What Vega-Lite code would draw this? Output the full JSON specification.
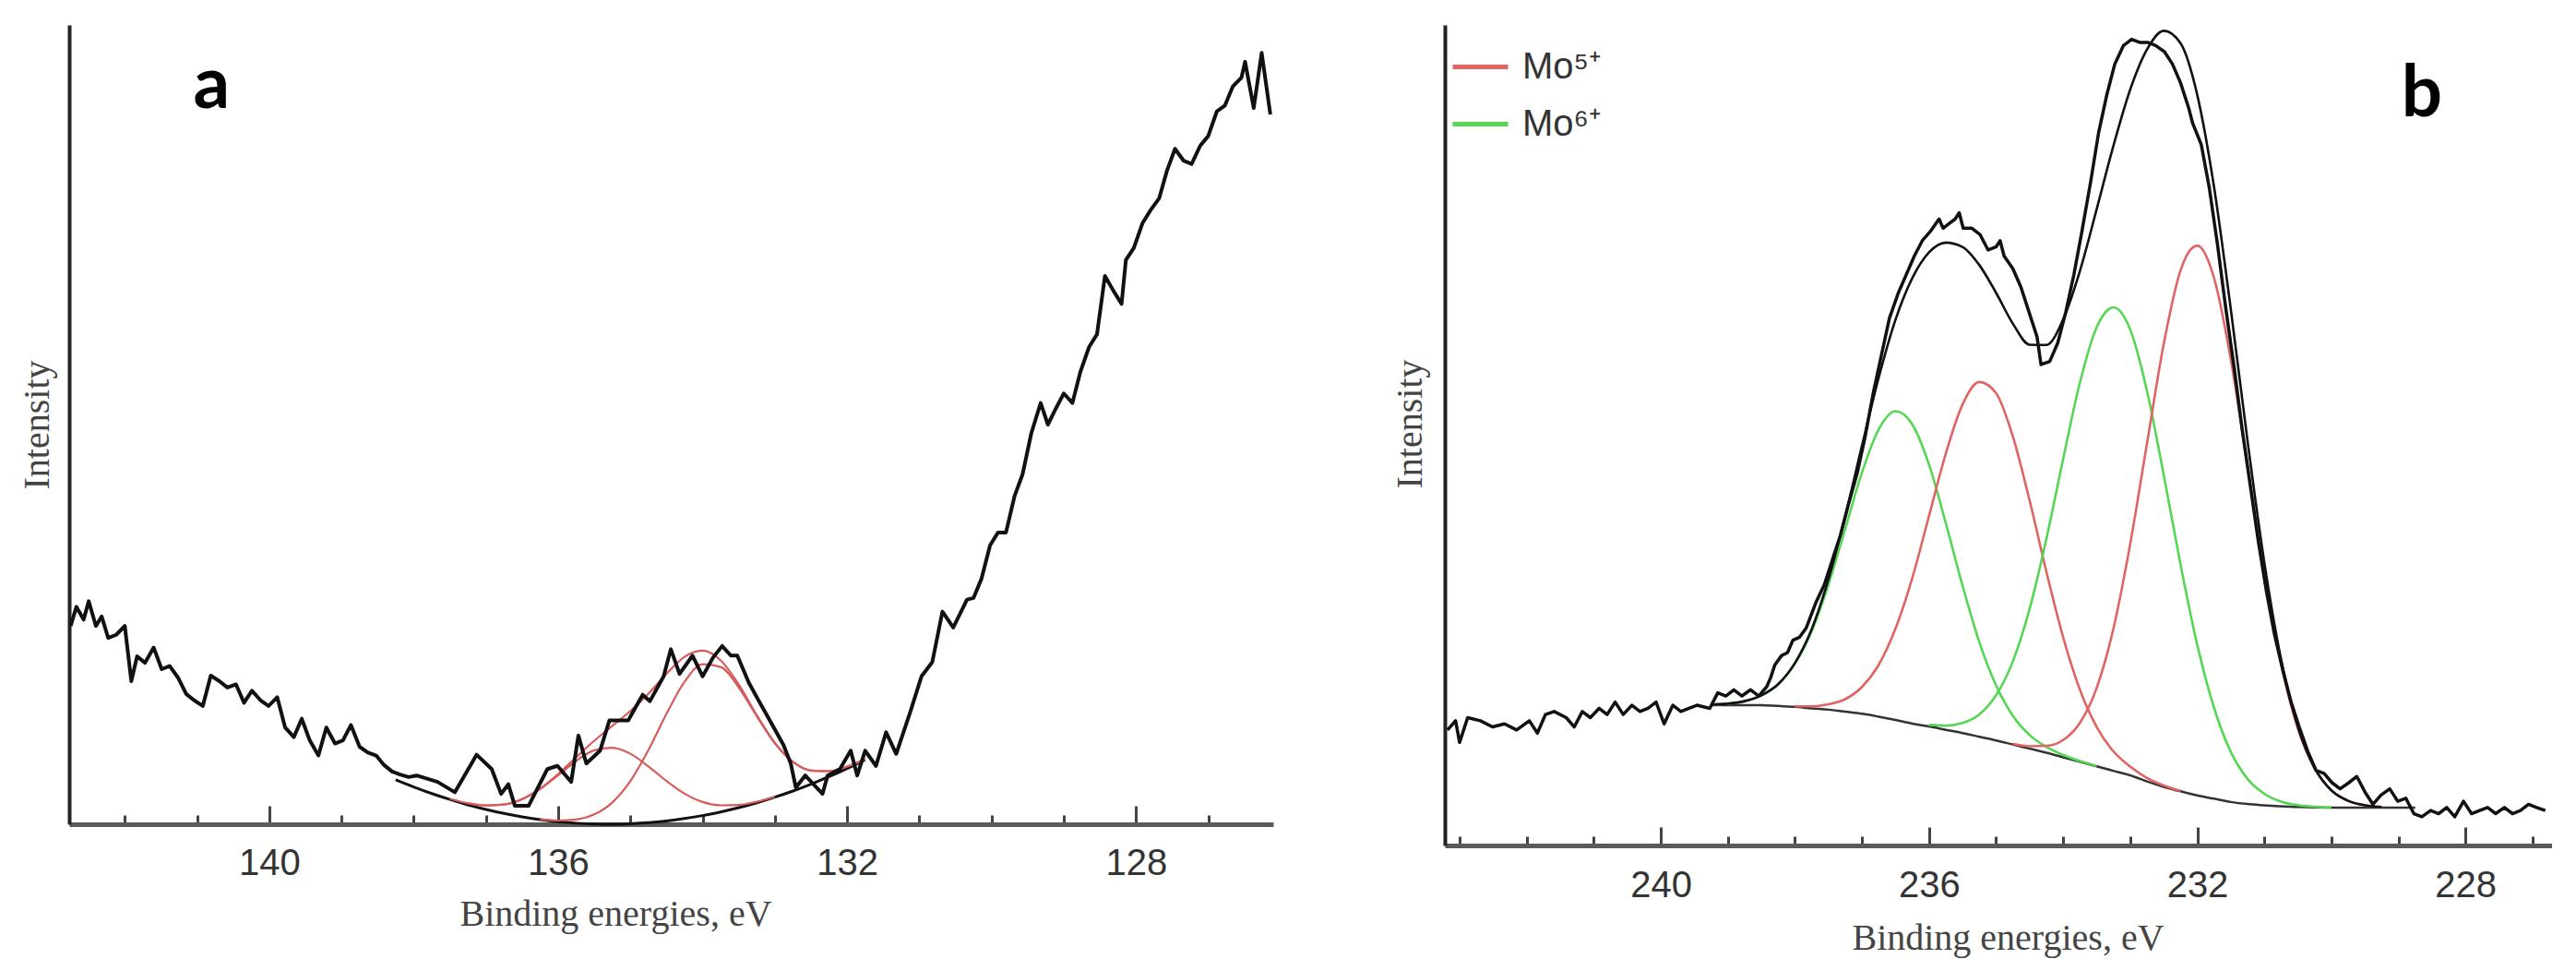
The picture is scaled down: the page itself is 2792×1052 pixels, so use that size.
{
"$schema": "https://vega.github.io/schema/vega-lite/v6.json",
"background": "white",
"padding": {"left": 20, "top": 18, "right": 0, "bottom": 30},
"spacing": 128,
"config": {
  "view": {"stroke": null},
  "axis": {"grid": false},
  "axisX": {"domainColor": "#5a5a5a", "domainWidth": 5, "tickColor": "#444", "tickWidth": 3, "labelFont": "Liberation Sans", "labelFontSize": 40, "labelColor": "#333", "titleFont": "Liberation Serif", "titleFontSize": 40, "titleFontWeight": "normal", "titleColor": "#444"},
  "axisY": {"domainColor": "#222", "domainWidth": 4, "ticks": false, "labels": false, "titleFont": "Liberation Serif", "titleFontSize": 40, "titleFontWeight": "normal", "titleColor": "#444"}
},
"datasets": {
  "aRaw": [
    {"e":142.75,"i":24.8},{"e":142.67,"i":27.2},{"e":142.57,"i":25.6},{"e":142.5,"i":27.9},{"e":142.4,"i":24.8},{"e":142.32,"i":26.0},{"e":142.23,"i":23.3},{"e":142.12,"i":23.7},{"e":142.0,"i":24.8},{"e":141.91,"i":17.9},{"e":141.83,"i":21.0},{"e":141.72,"i":20.2},{"e":141.6,"i":22.1},{"e":141.49,"i":19.4},{"e":141.38,"i":19.8},{"e":141.26,"i":18.3},{"e":141.15,"i":16.3},{"e":141.04,"i":15.5},{"e":140.92,"i":14.8},{"e":140.81,"i":18.6},{"e":140.69,"i":17.9},{"e":140.58,"i":17.1},{"e":140.46,"i":17.5},{"e":140.35,"i":15.2},{"e":140.24,"i":16.7},{"e":140.12,"i":15.5},{"e":140.01,"i":14.8},{"e":139.89,"i":15.9},{"e":139.78,"i":12.1},{"e":139.66,"i":10.9},{"e":139.55,"i":13.2},{"e":139.44,"i":10.5},{"e":139.32,"i":8.6},{"e":139.21,"i":12.1},{"e":139.09,"i":10.1},{"e":138.98,"i":10.5},{"e":138.87,"i":12.4},{"e":138.75,"i":9.7},{"e":138.64,"i":9.0},{"e":138.52,"i":8.6},{"e":138.41,"i":7.4},{"e":138.3,"i":6.6},{"e":138.18,"i":6.2},{"e":138.07,"i":5.9},
    {"e":137.96,"i":6.1},{"e":137.67,"i":5.3},{"e":137.43,"i":4.0},{"e":137.13,"i":8.7},{"e":136.92,"i":6.9},{"e":136.79,"i":3.8},{"e":136.69,"i":5.0},{"e":136.6,"i":2.3},{"e":136.41,"i":2.3},{"e":136.15,"i":6.9},{"e":136.01,"i":7.3},{"e":135.82,"i":5.3},{"e":135.72,"i":11.1},{"e":135.61,"i":7.6},{"e":135.42,"i":9.2},{"e":135.29,"i":13.0},{"e":135.03,"i":13.0},{"e":134.83,"i":16.2},{"e":134.73,"i":15.4},{"e":134.54,"i":18.5},{"e":134.44,"i":21.9},{"e":134.32,"i":18.8},{"e":134.14,"i":21.1},{"e":134.0,"i":18.5},{"e":133.86,"i":20.8},{"e":133.73,"i":22.3},{"e":133.61,"i":21.1},{"e":133.52,"i":21.1},{"e":133.36,"i":17.7},{"e":133.22,"i":15.4},{"e":133.07,"i":13.0},{"e":132.88,"i":9.9},{"e":132.78,"i":7.6},{"e":132.71,"i":4.6},{"e":132.58,"i":6.1},{"e":132.34,"i":3.8},{"e":132.27,"i":6.1},{"e":132.1,"i":6.9},{"e":131.95,"i":9.2},{"e":131.86,"i":6.1},{"e":131.75,"i":9.2},{"e":131.6,"i":7.3},{"e":131.46,"i":11.5},{"e":131.32,"i":8.8},{"e":131.12,"i":14.2},{"e":130.97,"i":18.5},{"e":130.82,"i":20.3},{"e":130.68,"i":26.6},{"e":130.53,"i":24.6},{"e":130.34,"i":28.1},
    {"e":130.25,"i":28.3},{"e":130.14,"i":30.7},{"e":130.02,"i":34.9},{"e":129.91,"i":36.5},{"e":129.8,"i":36.5},{"e":129.68,"i":41.1},{"e":129.57,"i":43.8},{"e":129.45,"i":48.9},{"e":129.32,"i":52.7},{"e":129.22,"i":50.0},{"e":129.11,"i":52.0},{"e":129.0,"i":53.9},{"e":128.88,"i":52.7},{"e":128.77,"i":56.6},{"e":128.65,"i":59.7},{"e":128.54,"i":61.3},{"e":128.43,"i":68.6},{"e":128.31,"i":66.7},{"e":128.2,"i":65.1},{"e":128.14,"i":70.6},{"e":128.03,"i":72.1},{"e":127.91,"i":75.2},{"e":127.8,"i":76.8},{"e":127.68,"i":78.3},{"e":127.57,"i":81.8},{"e":127.46,"i":84.5},{"e":127.34,"i":83.0},{"e":127.23,"i":82.6},{"e":127.11,"i":84.9},{"e":127.0,"i":86.1},{"e":126.88,"i":89.2},{"e":126.77,"i":89.9},{"e":126.66,"i":92.3},{"e":126.54,"i":93.4},{"e":126.49,"i":95.4},{"e":126.37,"i":89.6},{"e":126.26,"i":96.5},{"e":126.14,"i":88.8}
  ],
  "aFit": [
    {"c":"bg","e":138.25,"i":5.57},{"c":"bg","e":138.0,"i":4.67},{"c":"bg","e":137.75,"i":3.84},{"c":"bg","e":137.5,"i":3.1},{"c":"bg","e":137.25,"i":2.43},{"c":"bg","e":137.0,"i":1.85},{"c":"bg","e":136.75,"i":1.35},{"c":"bg","e":136.5,"i":0.92},{"c":"bg","e":136.25,"i":0.58},{"c":"bg","e":136.0,"i":0.31},{"c":"bg","e":135.75,"i":0.13},{"c":"bg","e":135.5,"i":0.03},{"c":"bg","e":135.25,"i":0.0},{"c":"bg","e":135.0,"i":0.06},{"c":"bg","e":134.75,"i":0.19},{"c":"bg","e":134.5,"i":0.41},{"c":"bg","e":134.25,"i":0.71},{"c":"bg","e":134.0,"i":1.08},{"c":"bg","e":133.75,"i":1.54},{"c":"bg","e":133.5,"i":2.07},{"c":"bg","e":133.25,"i":2.69},{"c":"bg","e":133.0,"i":3.39},{"c":"bg","e":132.75,"i":4.16},{"c":"bg","e":132.5,"i":5.02},{"c":"bg","e":132.25,"i":5.95},{"c":"bg","e":132.0,"i":6.97},{"c":"bg","e":131.75,"i":8.07},
    {"c":"env","e":137.5,"i":3.17},{"c":"env","e":137.25,"i":2.63},{"c":"env","e":137.0,"i":2.35},{"c":"env","e":136.75,"i":2.48},{"c":"env","e":136.5,"i":3.15},{"c":"env","e":136.25,"i":4.45},{"c":"env","e":136.0,"i":6.28},{"c":"env","e":135.75,"i":8.4},{"c":"env","e":135.5,"i":10.45},{"c":"env","e":135.25,"i":12.31},{"c":"env","e":135.0,"i":14.18},{"c":"env","e":134.75,"i":16.35},{"c":"env","e":134.5,"i":18.83},{"c":"env","e":134.25,"i":20.95},{"c":"env","e":134.0,"i":21.72},{"c":"env","e":133.75,"i":20.5},{"c":"env","e":133.5,"i":17.47},{"c":"env","e":133.25,"i":13.64},{"c":"env","e":133.0,"i":10.17},{"c":"env","e":132.75,"i":7.81},{"c":"env","e":132.5,"i":6.72},{"c":"env","e":132.25,"i":6.64},{"c":"env","e":132.0,"i":7.21},{"c":"env","e":131.75,"i":8.15},
    {"c":"s1","e":137.25,"i":2.63},{"c":"s1","e":137.0,"i":2.35},{"c":"s1","e":136.75,"i":2.47},{"c":"s1","e":136.5,"i":3.13},{"c":"s1","e":136.25,"i":4.4},{"c":"s1","e":136.0,"i":6.13},{"c":"s1","e":135.75,"i":7.94},{"c":"s1","e":135.5,"i":9.25},{"c":"s1","e":135.25,"i":9.58},{"c":"s1","e":135.0,"i":8.82},{"c":"s1","e":134.75,"i":7.24},{"c":"s1","e":134.5,"i":5.41},{"c":"s1","e":134.25,"i":3.83},{"c":"s1","e":134.0,"i":2.79},{"c":"s1","e":133.75,"i":2.37},{"c":"s1","e":133.5,"i":2.42},{"c":"s1","e":133.25,"i":2.82},{"c":"s1","e":133.0,"i":3.43},
    {"c":"s2","e":136.25,"i":0.62},{"c":"s2","e":136.0,"i":0.46},{"c":"s2","e":135.75,"i":0.59},{"c":"s2","e":135.5,"i":1.23},{"c":"s2","e":135.25,"i":2.73},{"c":"s2","e":135.0,"i":5.42},{"c":"s2","e":134.75,"i":9.3},{"c":"s2","e":134.5,"i":13.83},{"c":"s2","e":134.25,"i":17.83},{"c":"s2","e":134.0,"i":20.01},{"c":"s2","e":133.75,"i":19.67},{"c":"s2","e":133.5,"i":17.12},{"c":"s2","e":133.25,"i":13.51},{"c":"s2","e":133.0,"i":10.13},{"c":"s2","e":132.75,"i":7.8},{"c":"s2","e":132.5,"i":6.72},{"c":"s2","e":132.25,"i":6.64},{"c":"s2","e":132.0,"i":7.21},{"c":"s2","e":131.75,"i":8.15}
  ],
  "bRaw": [
    {"e":243.18,"i":14.07},{"e":243.06,"i":15.2},{"e":243.0,"i":12.56},{"e":242.88,"i":15.58},{"e":242.69,"i":15.2},{"e":242.51,"i":14.45},{"e":242.33,"i":14.82},{"e":242.15,"i":14.07},{"e":241.96,"i":15.2},{"e":241.84,"i":13.69},{"e":241.72,"i":15.96},{"e":241.59,"i":16.33},{"e":241.41,"i":15.58},{"e":241.29,"i":14.45},{"e":241.17,"i":16.33},{"e":241.05,"i":15.58},{"e":240.92,"i":16.71},{"e":240.8,"i":15.96},{"e":240.68,"i":17.47},{"e":240.56,"i":15.96},{"e":240.43,"i":17.09},{"e":240.31,"i":16.33},{"e":240.19,"i":16.71},{"e":240.07,"i":17.47},{"e":239.95,"i":14.82},{"e":239.82,"i":17.09},{"e":239.7,"i":16.33},{"e":239.58,"i":16.71},{"e":239.46,"i":17.09},{"e":239.27,"i":16.71},{"e":239.15,"i":18.6},{"e":239.03,"i":18.22},{"e":238.91,"i":18.98},{"e":238.79,"i":18.22},{"e":238.66,"i":18.98},{"e":238.54,"i":18.22},{"e":238.42,"i":19.35},{"e":238.36,"i":20.49},{"e":238.3,"i":22.0},{"e":238.2,"i":23.13},{"e":238.11,"i":23.51},{"e":238.03,"i":25.02},{"e":237.93,"i":25.39},{"e":237.83,"i":26.53},{"e":237.69,"i":29.55},{"e":237.56,"i":31.81},{"e":237.44,"i":34.83},{"e":237.32,"i":37.85},{"e":237.2,"i":41.62},{"e":237.07,"i":45.4},{"e":236.95,"i":49.93},{"e":236.83,"i":55.21},{"e":236.71,"i":59.74},{"e":236.59,"i":64.27},{"e":236.46,"i":67.29},{"e":236.34,"i":69.56},{"e":236.22,"i":71.82},{"e":236.1,"i":73.71},{"e":235.98,"i":74.84},{"e":235.85,"i":76.35},{"e":235.79,"i":75.22},{"e":235.73,"i":75.6},{"e":235.61,"i":76.35},{"e":235.55,"i":77.11},{"e":235.49,"i":75.22},{"e":235.36,"i":75.22},{"e":235.24,"i":74.46},{"e":235.12,"i":72.58},{"e":235.0,"i":72.95},{"e":234.94,"i":73.71},{"e":234.88,"i":71.82},{"e":234.75,"i":70.31},{"e":234.63,"i":68.05},{"e":234.51,"i":65.03},{"e":234.39,"i":62.01},{"e":234.33,"i":58.61},{"e":234.2,"i":58.99},{"e":234.08,"i":61.25},{"e":233.96,"i":65.03},{"e":233.84,"i":69.56},{"e":233.72,"i":74.84},{"e":233.59,"i":80.88},{"e":233.47,"i":86.92},{"e":233.35,"i":91.45},{"e":233.23,"i":95.23},{"e":233.1,"i":97.49},{"e":232.98,"i":98.25},{"e":232.86,"i":97.87},{"e":232.74,"i":97.87},{"e":232.62,"i":97.49},{"e":232.49,"i":96.74},{"e":232.37,"i":95.23},{"e":232.25,"i":92.96},{"e":232.13,"i":89.94},{"e":232.07,"i":88.05},{"e":231.94,"i":85.41},{"e":231.82,"i":80.13},{"e":231.7,"i":73.33},{"e":231.58,"i":65.78},{"e":231.45,"i":58.23},{"e":231.33,"i":50.68},{"e":231.21,"i":43.89},{"e":231.09,"i":37.1},{"e":230.97,"i":31.06},{"e":230.85,"i":25.77},{"e":230.72,"i":21.24},{"e":230.6,"i":17.47},{"e":230.48,"i":14.45},{"e":230.35,"i":11.43},{"e":230.23,"i":9.16},{"e":230.11,"i":8.79},{"e":229.99,"i":7.65},{"e":229.87,"i":6.9},{"e":229.74,"i":7.65},{"e":229.62,"i":8.41},{"e":229.5,"i":6.52},{"e":229.38,"i":5.01},{"e":229.26,"i":6.14},{"e":229.13,"i":6.9},{"e":229.01,"i":5.39},{"e":228.89,"i":5.76},{"e":228.77,"i":3.88},{"e":228.65,"i":3.5},{"e":228.52,"i":4.26},{"e":228.4,"i":3.88},{"e":228.28,"i":4.63},{"e":228.16,"i":3.5},{"e":228.03,"i":5.39},{"e":227.91,"i":3.88},{"e":227.79,"i":4.26},{"e":227.67,"i":4.63},{"e":227.55,"i":3.88},{"e":227.42,"i":4.63},{"e":227.3,"i":3.88},{"e":227.18,"i":4.26},{"e":227.06,"i":5.01},{"e":226.94,"i":4.63},{"e":226.81,"i":4.26}
  ],
  "bFit": [
    {"c":"bg","e":239.25,"i":17.1},{"c":"bg","e":239.0,"i":17.1},{"c":"bg","e":238.75,"i":17.1},{"c":"bg","e":238.5,"i":17.1},{"c":"bg","e":238.25,"i":17.0},{"c":"bg","e":238.0,"i":16.9},{"c":"bg","e":237.75,"i":16.7},{"c":"bg","e":237.5,"i":16.55},{"c":"bg","e":237.25,"i":16.3},{"c":"bg","e":237.0,"i":16.05},{"c":"bg","e":236.75,"i":15.7},{"c":"bg","e":236.5,"i":15.3},{"c":"bg","e":236.25,"i":14.85},{"c":"bg","e":236.0,"i":14.5},{"c":"bg","e":235.75,"i":14.1},{"c":"bg","e":235.5,"i":13.7},{"c":"bg","e":235.25,"i":13.25},{"c":"bg","e":235.0,"i":12.8},{"c":"bg","e":234.75,"i":12.3},{"c":"bg","e":234.5,"i":11.8},{"c":"bg","e":234.25,"i":11.3},{"c":"bg","e":234.0,"i":10.75},{"c":"bg","e":233.75,"i":10.2},{"c":"bg","e":233.5,"i":9.65},{"c":"bg","e":233.25,"i":9.1},{"c":"bg","e":233.0,"i":8.55},{"c":"bg","e":232.75,"i":7.8},{"c":"bg","e":232.5,"i":7.15},{"c":"bg","e":232.25,"i":6.6},{"c":"bg","e":232.0,"i":6.1},{"c":"bg","e":231.75,"i":5.7},{"c":"bg","e":231.5,"i":5.3},{"c":"bg","e":231.25,"i":5.05},{"c":"bg","e":231.0,"i":4.9},{"c":"bg","e":230.75,"i":4.77},{"c":"bg","e":230.5,"i":4.7},{"c":"bg","e":230.25,"i":4.65},{"c":"bg","e":230.0,"i":4.6},{"c":"bg","e":229.5,"i":4.6},{"c":"bg","e":229.0,"i":4.6},{"c":"bg","e":228.75,"i":4.6},
    {"c":"env","e":239.25,"i":17.16},{"c":"env","e":239.0,"i":17.28},{"c":"env","e":238.75,"i":17.59},{"c":"env","e":238.5,"i":18.3},{"c":"env","e":238.25,"i":19.66},{"c":"env","e":238.0,"i":22.23},{"c":"env","e":237.75,"i":26.35},{"c":"env","e":237.5,"i":32.43},{"c":"env","e":237.25,"i":40.11},{"c":"env","e":237.0,"i":48.72},{"c":"env","e":236.75,"i":57.03},{"c":"env","e":236.5,"i":64.07},{"c":"env","e":236.25,"i":69.13},{"c":"env","e":236.0,"i":72.28},{"c":"env","e":235.75,"i":73.47},{"c":"env","e":235.5,"i":72.94},{"c":"env","e":235.25,"i":70.74},{"c":"env","e":235.0,"i":67.35},{"c":"env","e":234.75,"i":63.6},{"c":"env","e":234.5,"i":61.03},{"c":"env","e":234.25,"i":60.99},{"c":"env","e":234.0,"i":64.11},{"c":"env","e":233.75,"i":70.01},{"c":"env","e":233.5,"i":77.54},{"c":"env","e":233.25,"i":85.28},{"c":"env","e":233.0,"i":92.12},{"c":"env","e":232.75,"i":97.0},{"c":"env","e":232.5,"i":99.28},{"c":"env","e":232.25,"i":97.78},{"c":"env","e":232.0,"i":91.47},{"c":"env","e":231.75,"i":80.26},{"c":"env","e":231.5,"i":65.36},{"c":"env","e":231.25,"i":49.28},{"c":"env","e":231.0,"i":34.49},{"c":"env","e":230.75,"i":22.68},{"c":"env","e":230.5,"i":14.47},{"c":"env","e":230.25,"i":9.46},{"c":"env","e":230.0,"i":6.72},{"c":"env","e":229.75,"i":5.44},{"c":"env","e":229.5,"i":4.9},{"c":"env","e":229.25,"i":4.7},
    {"c":"g1","s":"Mo⁶⁺","e":239.25,"i":17.16},{"c":"g1","s":"Mo⁶⁺","e":239.0,"i":17.28},{"c":"g1","s":"Mo⁶⁺","e":238.75,"i":17.59},{"c":"g1","s":"Mo⁶⁺","e":238.5,"i":18.29},{"c":"g1","s":"Mo⁶⁺","e":238.25,"i":19.63},{"c":"g1","s":"Mo⁶⁺","e":238.0,"i":22.14},{"c":"g1","s":"Mo⁶⁺","e":237.75,"i":26.1},{"c":"g1","s":"Mo⁶⁺","e":237.5,"i":31.78},{"c":"g1","s":"Mo⁶⁺","e":237.25,"i":38.58},{"c":"g1","s":"Mo⁶⁺","e":237.0,"i":45.45},{"c":"g1","s":"Mo⁶⁺","e":236.75,"i":50.71},{"c":"g1","s":"Mo⁶⁺","e":236.5,"i":52.92},{"c":"g1","s":"Mo⁶⁺","e":236.25,"i":51.33},{"c":"g1","s":"Mo⁶⁺","e":236.0,"i":46.42},{"c":"g1","s":"Mo⁶⁺","e":235.75,"i":39.3},{"c":"g1","s":"Mo⁶⁺","e":235.5,"i":31.66},{"c":"g1","s":"Mo⁶⁺","e":235.25,"i":24.79},{"c":"g1","s":"Mo⁶⁺","e":235.0,"i":19.5},{"c":"g1","s":"Mo⁶⁺","e":234.75,"i":15.81},{"c":"g1","s":"Mo⁶⁺","e":234.5,"i":13.46},{"c":"g1","s":"Mo⁶⁺","e":234.25,"i":12.01},{"c":"g1","s":"Mo⁶⁺","e":234.0,"i":11.02},{"c":"g1","s":"Mo⁶⁺","e":233.75,"i":10.29},{"c":"g1","s":"Mo⁶⁺","e":233.5,"i":9.68},
    {"c":"r1","s":"Mo⁵⁺","e":238.0,"i":16.99},{"c":"r1","s":"Mo⁵⁺","e":237.75,"i":16.95},{"c":"r1","s":"Mo⁵⁺","e":237.5,"i":17.2},{"c":"r1","s":"Mo⁵⁺","e":237.25,"i":17.83},{"c":"r1","s":"Mo⁵⁺","e":237.0,"i":19.32},{"c":"r1","s":"Mo⁵⁺","e":236.75,"i":22.02},{"c":"r1","s":"Mo⁵⁺","e":236.5,"i":26.43},{"c":"r1","s":"Mo⁵⁺","e":236.25,"i":32.59},{"c":"r1","s":"Mo⁵⁺","e":236.0,"i":40.17},{"c":"r1","s":"Mo⁵⁺","e":235.75,"i":47.77},{"c":"r1","s":"Mo⁵⁺","e":235.5,"i":53.76},{"c":"r1","s":"Mo⁵⁺","e":235.25,"i":56.48},{"c":"r1","s":"Mo⁵⁺","e":235.0,"i":55.12},{"c":"r1","s":"Mo⁵⁺","e":234.75,"i":49.86},{"c":"r1","s":"Mo⁵⁺","e":234.5,"i":42.04},{"c":"r1","s":"Mo⁵⁺","e":234.25,"i":33.38},{"c":"r1","s":"Mo⁵⁺","e":234.0,"i":25.38},{"c":"r1","s":"Mo⁵⁺","e":233.75,"i":18.98},{"c":"r1","s":"Mo⁵⁺","e":233.5,"i":14.44},{"c":"r1","s":"Mo⁵⁺","e":233.25,"i":11.47},{"c":"r1","s":"Mo⁵⁺","e":233.0,"i":9.61},{"c":"r1","s":"Mo⁵⁺","e":232.75,"i":8.23},{"c":"r1","s":"Mo⁵⁺","e":232.5,"i":7.31},{"c":"r1","s":"Mo⁵⁺","e":232.25,"i":6.65},
    {"c":"g2","s":"Mo⁶⁺","e":236.0,"i":14.69},{"c":"g2","s":"Mo⁶⁺","e":235.75,"i":14.6},{"c":"g2","s":"Mo⁶⁺","e":235.5,"i":14.92},{"c":"g2","s":"Mo⁶⁺","e":235.25,"i":15.97},{"c":"g2","s":"Mo⁶⁺","e":235.0,"i":18.3},{"c":"g2","s":"Mo⁶⁺","e":234.75,"i":22.43},{"c":"g2","s":"Mo⁶⁺","e":234.5,"i":28.83},{"c":"g2","s":"Mo⁶⁺","e":234.25,"i":37.36},{"c":"g2","s":"Mo⁶⁺","e":234.0,"i":47.11},{"c":"g2","s":"Mo⁶⁺","e":233.75,"i":56.41},{"c":"g2","s":"Mo⁶⁺","e":233.5,"i":63.17},{"c":"g2","s":"Mo⁶⁺","e":233.25,"i":65.58},{"c":"g2","s":"Mo⁶⁺","e":233.0,"i":62.87},{"c":"g2","s":"Mo⁶⁺","e":232.75,"i":55.4},{"c":"g2","s":"Mo⁶⁺","e":232.5,"i":45.16},{"c":"g2","s":"Mo⁶⁺","e":232.25,"i":34.26},{"c":"g2","s":"Mo⁶⁺","e":232.0,"i":24.45},{"c":"g2","s":"Mo⁶⁺","e":231.75,"i":16.79},{"c":"g2","s":"Mo⁶⁺","e":231.5,"i":11.4},{"c":"g2","s":"Mo⁶⁺","e":231.25,"i":8.11},{"c":"g2","s":"Mo⁶⁺","e":231.0,"i":6.3},{"c":"g2","s":"Mo⁶⁺","e":230.75,"i":5.35},{"c":"g2","s":"Mo⁶⁺","e":230.5,"i":4.92},{"c":"g2","s":"Mo⁶⁺","e":230.25,"i":4.73},{"c":"g2","s":"Mo⁶⁺","e":230.0,"i":4.62},
    {"c":"r2","s":"Mo⁵⁺","e":234.75,"i":12.4},{"c":"r2","s":"Mo⁵⁺","e":234.5,"i":12.1},{"c":"r2","s":"Mo⁵⁺","e":234.25,"i":12.14},{"c":"r2","s":"Mo⁵⁺","e":234.0,"i":12.85},{"c":"r2","s":"Mo⁵⁺","e":233.75,"i":14.93},{"c":"r2","s":"Mo⁵⁺","e":233.5,"i":19.2},{"c":"r2","s":"Mo⁵⁺","e":233.25,"i":26.43},{"c":"r2","s":"Mo⁵⁺","e":233.0,"i":36.74},{"c":"r2","s":"Mo⁵⁺","e":232.75,"i":48.97},{"c":"r2","s":"Mo⁵⁺","e":232.5,"i":61.11},{"c":"r2","s":"Mo⁵⁺","e":232.25,"i":70.07},{"c":"r2","s":"Mo⁵⁺","e":232.0,"i":73.1},{"c":"r2","s":"Mo⁵⁺","e":231.75,"i":69.17},{"c":"r2","s":"Mo⁵⁺","e":231.5,"i":59.26},{"c":"r2","s":"Mo⁵⁺","e":231.25,"i":46.22},{"c":"r2","s":"Mo⁵⁺","e":231.0,"i":33.09},{"c":"r2","s":"Mo⁵⁺","e":230.75,"i":22.1},{"c":"r2","s":"Mo⁵⁺","e":230.5,"i":14.25},{"c":"r2","s":"Mo⁵⁺","e":230.25,"i":9.38},{"c":"r2","s":"Mo⁵⁺","e":230.0,"i":6.7},{"c":"r2","s":"Mo⁵⁺","e":229.75,"i":5.44},{"c":"r2","s":"Mo⁵⁺","e":229.5,"i":4.9},{"c":"r2","s":"Mo⁵⁺","e":229.25,"i":4.7}
  ]
},
"resolve": {"scale": {"x": "independent", "y": "independent", "color": "independent"}},
"hconcat": [
  {
    "width": 1305, "height": 866,
    "title": {"text": " ", "fontSize": 1, "offset": 8},
    "resolve": {"axis": {"x": "independent"}},
    "layer": [
      {"data": {"name": "aFit"}, "transform": [{"filter": "datum.c == 'bg'"}],
       "mark": {"type": "line", "color": "#111111", "strokeWidth": 3, "interpolate": "monotone"},
       "encoding": {
         "x": {"field": "e", "type": "quantitative", "scale": {"domain": [126.1, 142.77], "reverse": true, "nice": false, "zero": false},
               "axis": {"orient": "bottom", "values": [140, 136, 132, 128], "tickSize": -20, "domain": false, "labels": true, "labelBaseline": "alphabetic", "labelPadding": 74, "labelFlush": false, "title": "Binding energies, eV", "titleX": 592, "titleY": 109, "titleBaseline": "alphabetic", "titleAlign": "center"}},
         "y": {"field": "i", "type": "quantitative", "scale": {"domain": [0, 100], "nice": false, "zero": false}, "axis": {"title": "Intensity", "titleX": -35, "titleBaseline": "middle"}}
       }},
      {"data": {"name": "aFit"}, "transform": [{"filter": "datum.c == 's1' || datum.c == 's2'"}],
       "mark": {"type": "line", "color": "#d65c5c", "strokeWidth": 2.2, "interpolate": "monotone"},
       "encoding": {
         "x": {"field": "e", "type": "quantitative", "scale": {"domain": [126.1, 142.77], "reverse": true, "nice": false, "zero": false}, "axis": null},
         "y": {"field": "i", "type": "quantitative", "scale": {"domain": [0, 100], "nice": false, "zero": false}, "axis": {"title": "Intensity", "titleX": -35, "titleBaseline": "middle"}},
         "detail": {"field": "c", "type": "nominal"}
       }},
      {"data": {"name": "aFit"}, "transform": [{"filter": "datum.c == 'env'"}],
       "mark": {"type": "line", "color": "#d65c5c", "strokeWidth": 2.2, "interpolate": "monotone"},
       "encoding": {
         "x": {"field": "e", "type": "quantitative", "scale": {"domain": [126.1, 142.77], "reverse": true, "nice": false, "zero": false}, "axis": null},
         "y": {"field": "i", "type": "quantitative", "scale": {"domain": [0, 100], "nice": false, "zero": false}, "axis": {"title": "Intensity", "titleX": -35, "titleBaseline": "middle"}}
       }},
      {"data": {"name": "aRaw"},
       "mark": {"type": "line", "color": "#111111", "strokeWidth": 4, "strokeJoin": "round"},
       "encoding": {
         "x": {"field": "e", "type": "quantitative", "scale": {"domain": [126.1, 142.77], "reverse": true, "nice": false, "zero": false},
               "axis": {"orient": "bottom", "values": [142, 141, 140, 139, 138, 137, 136, 135, 134, 133, 132, 131, 130, 129, 128, 127], "tickSize": -10, "labels": false, "domain": true, "title": null}},
         "y": {"field": "i", "type": "quantitative", "scale": {"domain": [0, 100], "nice": false, "zero": false},
               "axis": {"title": "Intensity", "titleX": -35, "titleBaseline": "middle"}}
       }},
      {"data": {"values": [{}]},
       "mark": {"type": "text", "text": "a", "font": "Lato", "fontWeight": "bold", "fontSize": 78, "align": "center", "baseline": "alphabetic", "color": "#000000"},
       "encoding": {
         "x": {"datum": 140.8, "type": "quantitative", "scale": {"domain": [126.1, 142.77], "reverse": true, "nice": false, "zero": false}, "axis": null},
         "y": {"datum": 89.6, "type": "quantitative", "scale": {"domain": [0, 100], "nice": false, "zero": false}, "axis": {"title": "Intensity", "titleX": -35, "titleBaseline": "middle"}}
       }}
    ]
  },
  {
    "width": 1200, "height": 889,
    "resolve": {"axis": {"x": "independent"}},
    "layer": [
      {"data": {"name": "bFit"}, "transform": [{"filter": "datum.c == 'bg'"}],
       "mark": {"type": "line", "color": "#333333", "strokeWidth": 2.5, "interpolate": "monotone"},
       "encoding": {
         "x": {"field": "e", "type": "quantitative", "scale": {"domain": [226.71, 243.22], "reverse": true, "nice": false, "zero": false},
               "axis": {"orient": "bottom", "values": [240, 236, 232, 228], "tickSize": -20, "domain": false, "labels": true, "labelBaseline": "alphabetic", "labelPadding": 75, "labelFlush": false, "title": "Binding energies, eV", "titleX": 610, "titleY": 112, "titleBaseline": "alphabetic", "titleAlign": "center"}},
         "y": {"field": "i", "type": "quantitative", "scale": {"domain": [0, 100], "nice": false, "zero": false}, "axis": {"title": "Intensity", "titleX": -38, "titleY": 432, "titleBaseline": "middle"}}
       }},
      {"data": {"name": "bFit"}, "transform": [{"filter": "datum.c == 'g1' || datum.c == 'r1' || datum.c == 'g2' || datum.c == 'r2'"}],
       "mark": {"type": "line", "strokeWidth": 2.6, "interpolate": "monotone"},
       "encoding": {
         "x": {"field": "e", "type": "quantitative", "scale": {"domain": [226.71, 243.22], "reverse": true, "nice": false, "zero": false}, "axis": null},
         "y": {"field": "i", "type": "quantitative", "scale": {"domain": [0, 100], "nice": false, "zero": false}, "axis": {"title": "Intensity", "titleX": -38, "titleY": 432, "titleBaseline": "middle"}},
         "detail": {"field": "c", "type": "nominal"},
         "color": {"field": "s", "type": "nominal", "scale": {"domain": ["Mo⁵⁺", "Mo⁶⁺"], "range": ["#e06464", "#55d655"]},
                   "legend": {"orient": "none", "legendX": 6, "legendY": 13, "title": null, "symbolType": "stroke", "symbolSize": 3600, "symbolStrokeWidth": 5, "labelFont": "Liberation Sans", "labelFontSize": 40, "labelColor": "#333333", "labelOffset": 13, "rowPadding": 9, "padding": 0}}
       }},
      {"data": {"name": "bFit"}, "transform": [{"filter": "datum.c == 'env'"}],
       "mark": {"type": "line", "color": "#111111", "strokeWidth": 2.6, "interpolate": "monotone"},
       "encoding": {
         "x": {"field": "e", "type": "quantitative", "scale": {"domain": [226.71, 243.22], "reverse": true, "nice": false, "zero": false}, "axis": null},
         "y": {"field": "i", "type": "quantitative", "scale": {"domain": [0, 100], "nice": false, "zero": false}, "axis": {"title": "Intensity", "titleX": -38, "titleY": 432, "titleBaseline": "middle"}}
       }},
      {"data": {"name": "bRaw"},
       "mark": {"type": "line", "color": "#111111", "strokeWidth": 3.5, "strokeJoin": "round"},
       "encoding": {
         "x": {"field": "e", "type": "quantitative", "scale": {"domain": [226.71, 243.22], "reverse": true, "nice": false, "zero": false},
               "axis": {"orient": "bottom", "values": [243, 242, 241, 240, 239, 238, 237, 236, 235, 234, 233, 232, 231, 230, 229, 228, 227], "tickSize": -10, "labels": false, "domain": true, "title": null}},
         "y": {"field": "i", "type": "quantitative", "scale": {"domain": [0, 100], "nice": false, "zero": false},
               "axis": {"title": "Intensity", "titleX": -38, "titleY": 432, "titleBaseline": "middle"}}
       }},
      {"data": {"values": [{}]},
       "mark": {"type": "text", "text": "b", "font": "Lato", "fontWeight": "bold", "fontSize": 78, "align": "center", "baseline": "alphabetic", "color": "#000000"},
       "encoding": {
         "x": {"datum": 228.65, "type": "quantitative", "scale": {"domain": [226.71, 243.22], "reverse": true, "nice": false, "zero": false}, "axis": null},
         "y": {"datum": 88.9, "type": "quantitative", "scale": {"domain": [0, 100], "nice": false, "zero": false}, "axis": {"title": "Intensity", "titleX": -38, "titleY": 432, "titleBaseline": "middle"}}
       }}
    ]
  }
]
}
